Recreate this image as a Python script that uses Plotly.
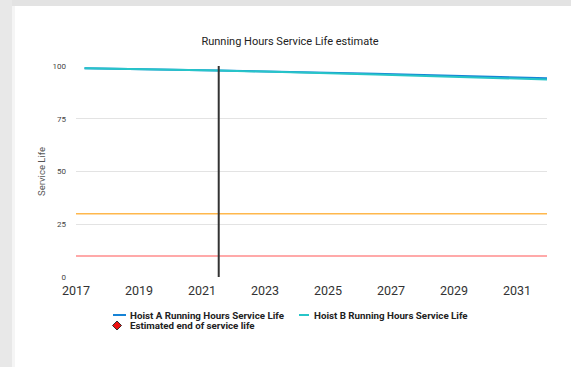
import plotly.graph_objects as go

# ---- data ----
years = [2017.27, 2021.5, 2026.5, 2031.95]
hoist_a = [98.9, 97.9, 96.3, 94.2]
hoist_b = [98.9, 97.9, 96.0, 93.6]
warning_level = 30
critical_level = 10
current_date = 2021.53
x_ticks = [2017, 2019, 2021, 2023, 2025, 2027, 2029, 2031]
y_ticks = [0, 25, 50, 75, 100]
name_a = "Hoist A Running Hours Service Life"
name_b = "Hoist B Running Hours Service Life"
name_end = "Estimated end of service life"

W, H = 571, 367
L, R, T, B = 76, 24, 66, 90
pw, ph = W - L - R, H - T - B

def px_x(p):
    return (p - L) / pw

def px_y(p):
    return (H - B - p) / ph

FONT = "Roboto"
COL_A, COL_B, COL_END = "#1683d6", "#27c5c8", "#ee1111"

fig = go.Figure()
fig.add_trace(go.Scatter(x=years, y=hoist_a, mode="lines", name=name_a,
                         line=dict(color=COL_A, width=2), showlegend=False))
fig.add_trace(go.Scatter(x=years, y=hoist_b, mode="lines", name=name_b,
                         line=dict(color=COL_B, width=2), showlegend=False))
fig.add_trace(go.Scatter(x=[None], y=[None], mode="markers", name=name_end, showlegend=False,
                         marker=dict(symbol="diamond", color=COL_END, size=9,
                                     line=dict(color="#222222", width=1))))

shapes = [
    dict(type="line", xref="paper", yref="y", x0=0, x1=1, y0=warning_level, y1=warning_level,
         line=dict(color="#ffb84d", width=1.5), layer="above"),
    dict(type="line", xref="paper", yref="y", x0=0, x1=1, y0=critical_level, y1=critical_level,
         line=dict(color="#ff8c8c", width=1.5), layer="above"),
    dict(type="line", xref="x", yref="y", x0=current_date, x1=current_date, y0=0, y1=100,
         line=dict(color="#333333", width=2), layer="above"),
    # page background around the card
    dict(type="rect", xref="paper", yref="paper", x0=px_x(0), x1=px_x(W), y0=px_y(6), y1=px_y(0),
         fillcolor="#e3e3e3", line=dict(width=0), layer="below"),
    dict(type="rect", xref="paper", yref="paper", x0=px_x(0), x1=px_x(12), y0=px_y(H), y1=px_y(0),
         fillcolor="#e8e8e8", line=dict(width=0), layer="below"),
    dict(type="rect", xref="paper", yref="paper", x0=px_x(12), x1=px_x(15), y0=px_y(H), y1=px_y(6),
         fillcolor="#f5f5f5", line=dict(width=0), layer="below"),
]

# ---- legend (drawn as shapes + annotations to get compact symbols) ----
legend_font = dict(size=9.75, color="#222222", family=FONT, weight="bold")
annotations = []
legend_items = [
    ("line", COL_A, name_a, 113, 126, 129, 315),
    ("line", COL_B, name_b, 299, 309, 313, 315),
    ("diamond", COL_END, name_end, 117, 117, 129, 325.5),
]
for kind, col, label, sx0, sx1, tx, ty in legend_items:
    if kind == "line":
        shapes.append(dict(type="line", xref="paper", yref="paper",
                           x0=px_x(sx0), x1=px_x(sx1), y0=px_y(ty), y1=px_y(ty),
                           line=dict(color=col, width=2)))
    else:
        d = 4.5
        path = "M {} {} L {} {} L {} {} L {} {} Z".format(
            px_x(sx0 - d), px_y(ty), px_x(sx0), px_y(ty - d),
            px_x(sx0 + d), px_y(ty), px_x(sx0), px_y(ty + d))
        shapes.append(dict(type="path", xref="paper", yref="paper", path=path,
                           fillcolor=col, line=dict(color="#333333", width=1)))
    annotations.append(dict(text=label, xref="paper", yref="paper", x=px_x(tx), y=px_y(ty),
                            xanchor="left", yanchor="middle", showarrow=False,
                            font=legend_font, borderpad=0))

fig.update_layout(
    width=W, height=H,
    margin=dict(l=L, r=R, t=T, b=B),
    paper_bgcolor="white", plot_bgcolor="white",
    font=dict(family=FONT, color="#333333"),
    title=dict(text="Running Hours Service Life estimate", x=290 / W, xref="container", xanchor="center",
               y=1 - 41 / H, yanchor="middle", font=dict(size=11, color="#222222", family=FONT)),
    xaxis=dict(range=[2017, 2031.95], tickvals=x_ticks, ticktext=[str(v) for v in x_ticks],
               showgrid=False, zeroline=False, showline=False, ticks="",
               tickfont=dict(size=12.5, color="#333333"), ticklabelstandoff=4),
    yaxis=dict(range=[0, 100], tickvals=y_ticks, showgrid=True, gridcolor="#e3e3e3", gridwidth=1,
               zeroline=False, showline=False, ticks="",
               tickfont=dict(size=8, color="#444444"), ticklabelstandoff=9,
               title=dict(text="Service Life", font=dict(size=9.5, color="#555555"), standoff=5)),
    shapes=shapes,
    annotations=annotations,
    showlegend=False,
)

fig.write_html("out.html")
